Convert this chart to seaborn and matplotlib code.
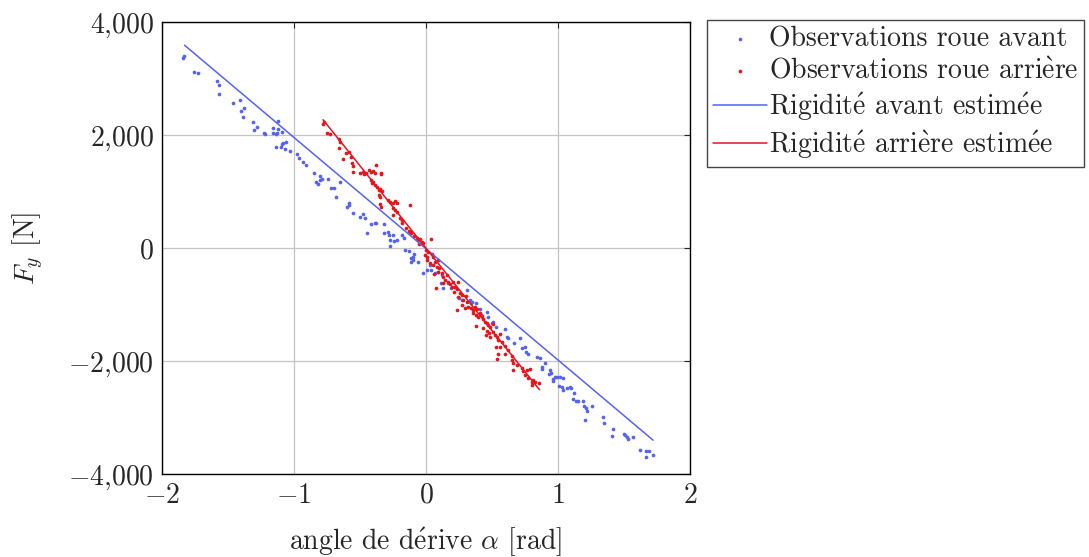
import seaborn as sns
import matplotlib.pyplot as plt
from matplotlib.ticker import FuncFormatter

# observations, roue avant (angle de derive [rad], effort lateral [N])
front_alpha = [-1.84, -1.83, -1.76, -1.73, -1.58, -1.57, -1.57, -1.46, -1.41, -1.40, -1.38, -1.39, -1.31,
               -1.28, -1.30, -1.23, -1.22, -1.16, -1.12, -1.12, -1.16, -1.14, -1.13, -1.09, -1.14, -1.10,
               -1.09, -1.08, -1.06, -1.07, -1.03, -0.98, -0.96, -0.93, -0.91, -0.85, -0.80, -0.79, -0.74,
               -0.83, -0.82, -0.80, -0.72, -0.70, -0.68, -0.65, -0.60, -0.58, -0.58, -0.55, -0.50, -0.48,
               -0.46, -0.42, -0.39, -0.38, -0.45, -0.32, -0.32, -0.29, -0.28, -0.27, -0.25, -0.27, -0.24,
               -0.22, -0.18, -0.17, -0.16, -0.13, -0.09, -0.10, -0.11,
               -0.11, -0.10, -0.06, -0.02, 0.005, 0.03, 0.04, 0.07, 0.09, 0.11, 0.12, 0.13, 0.17, 0.19,
               0.22, 0.25, 0.27, 0.31, 0.33, 0.34, 0.35, 0.38, 0.41, 0.42, 0.46, 0.47, 0.50, 0.51, 0.53,
               0.60, 0.61, 0.62, 0.67, 0.71, 0.73, 0.75, 0.76, 0.77, 0.84, 0.86,
               0.88, 0.90, 0.88, 0.94, 0.95, 0.93, 0.96, 0.98, 0.995, 1.015, 1.035, 0.965, 1.01, 1.03,
               1.04, 1.07, 1.09, 1.10, 1.12, 1.11, 1.14, 1.15, 1.19, 1.20, 1.21, 1.22, 1.26, 1.205, 1.34,
               1.35, 1.42, 1.41, 1.50, 1.51, 1.52, 1.53, 1.57, 1.62, 1.67, 1.69, 1.67, 1.72]
front_fy = [3360, 3400, 3120, 3100, 2960, 2890, 2720, 2570, 2620, 2420, 2470, 2310, 2230,
            2140, 2080, 2040, 2020, 2120, 2100, 2250, 2030, 2020, 2040, 2060, 1790, 1790,
            1840, 1850, 1870, 1750, 1720, 1660, 1590, 1530, 1470, 1320, 1270, 1230, 1230,
            1170, 1130, 1200, 1070, 1060, 900, 1170, 720, 760, 790, 625, 545, 600,
            535, 425, 435, 440, 260, 425, 260, 290, 230, 140, 230, 40, 130,
            140, 230, 170, -35, -50, -105, -155, -180,
            -240, -210, -240, -450, -390, -300, -390, -440, -420, -625, -480, -715, -615, -715,
            -685, -890, -920, -745, -920, -980, -950, -980, -1085, -1185, -1125, -1215, -1335, -1305, -1390,
            -1440, -1570, -1600, -1675, -1600, -1775, -1745, -1835, -1875, -1925, -1955,
            -2110, -2030, -2150, -2160, -2205, -2230, -2325, -2280, -2290, -2290, -2305, -2350, -2445, -2465,
            -2515, -2485, -2465, -2485, -2560, -2680, -2700, -2700, -2700, -2795, -2840, -2880, -2795, -3045, -2985,
            -3090, -3210, -3330, -3290, -3310, -3350, -3385, -3340, -3575, -3585, -3585, -3705, -3665]

# observations, roue arriere
rear_alpha = [-0.78, -0.77, -0.75, -0.73, -0.66, -0.65, -0.66, -0.63, -0.61, -0.58, -0.57, -0.56, -0.555,
              -0.555, -0.50, -0.48, -0.47, -0.455, -0.43, -0.42, -0.40, -0.39, -0.38, -0.34, -0.34, -0.42,
              -0.41, -0.40, -0.39, -0.37, -0.36, -0.35, -0.33, -0.36, -0.35, -0.29, -0.27, -0.25, -0.235,
              -0.22, -0.35, -0.34, -0.25, -0.235, -0.25, -0.22, -0.20, -0.18, -0.18, -0.12, -0.15, -0.13,
              -0.12, -0.11, -0.09, -0.07, -0.06, -0.045, -0.03, -0.05, -0.02, 0.035, 0.0, 0.017, -0.008,
              0.005, 0.043, 0.055,
              0.005, 0.07, 0.03, 0.053, 0.093, 0.08, 0.10, 0.06, 0.093, 0.12, 0.13, 0.157, 0.144, 0.13,
              0.17, 0.18, 0.207, 0.245, 0.194, 0.22, 0.237, 0.212, 0.258, 0.076, 0.27, 0.245, 0.278, 0.303,
              0.313, 0.27, 0.295, 0.237, 0.321, 0.338, 0.354, 0.371, 0.389, 0.359, 0.379, 0.396, 0.409,
              0.422, 0.379, 0.434, 0.447, 0.46, 0.472, 0.485, 0.51, 0.429, 0.46, 0.48, 0.51, 0.523, 0.535,
              0.561, 0.455, 0.485, 0.548, 0.573, 0.53, 0.561, 0.598, 0.624, 0.548, 0.598, 0.535, 0.649,
              0.649, 0.662, 0.687, 0.657, 0.725, 0.737, 0.763, 0.788, 0.75, 0.775, 0.801, 0.813, 0.826,
              0.859, 0.801]
rear_fy = [2195, 2235, 2030, 2020, 1925, 1880, 1765, 1570, 1675, 1705, 1615, 1500, 1450,
           1350, 1320, 1350, 1310, 1335, 1380, 1350, 1370, 1335, 1470, 1335, 1310, 1205,
           1155, 1175, 1115, 1075, 1025, 1040, 1015, 940, 910, 850, 820, 790, 835,
           790, 780, 730, 705, 675, 585, 645, 525, 495, 435, 760, 350, 305,
           290, 260, 210, 170, 140, 155, 110, 70, 85, 155, -35, -65, -125,
           -155, -105, -165,
           -210, -240, -270, -300, -210, -330, -360, -460, -420, -450, -505, -480, -565, -615,
           -595, -635, -595, -595, -685, -695, -730, -775, -790, -715, -830, -875, -920, -850,
           -950, -1010, -1070, -1095, -1040, -1070, -1095, -1050, -1085, -1155, -1185, -1225, -1155,
           -1205, -1380, -1260, -1305, -1335, -1365, -1390, -1345, -1420, -1465, -1500, -1480, -1540, -1570,
           -1520, -1540, -1570, -1630, -1660, -1745, -1760, -1735, -1805, -1875, -1875, -1970, -1910,
           -1980, -2030, -2070, -2160, -2130, -2170, -2160, -2150, -2250, -2305, -2365, -2335, -2365,
           -2395, -2425]

# droites de rigidite estimees
front_fit_alpha = [-1.83, 1.72]
front_fit_fy = [3590, -3400]
rear_fit_alpha = [-0.78, 0.86]
rear_fit_fy = [2270, -2510]

# accents through mathtext (cmr10 has no precomposed é / è)
E_AIGU = r'$\mathrm{\acute{e}}$'
E_GRAVE = r'$\mathrm{\grave{e}}$'
labels = ['Observations roue avant',
          'Observations roue arri' + E_GRAVE + 're',
          'Rigidit' + E_AIGU + ' avant estim' + E_AIGU + 'e',
          'Rigidit' + E_AIGU + ' arri' + E_GRAVE + 're estim' + E_AIGU + 'e']

blue = '#5562f2'
red = '#e8141a'

sns.set_style('white')
plt.rcParams['font.family'] = ['cmr10', 'DejaVu Serif']
plt.rcParams['mathtext.fontset'] = 'cm'
plt.rcParams['axes.unicode_minus'] = False

fig, ax = plt.subplots(figsize=(10.89, 5.57), dpi=100)
fig.subplots_adjust(left=0.1488, right=0.6336, bottom=0.149, top=0.9605)

sns.scatterplot(x=front_alpha, y=front_fy, color=blue, s=7, linewidth=0, ax=ax, label=labels[0])
sns.scatterplot(x=rear_alpha, y=rear_fy, color=red, s=7, linewidth=0, ax=ax, label=labels[1])
sns.lineplot(x=front_fit_alpha, y=front_fit_fy, color=blue, linewidth=1.1, ax=ax, label=labels[2])
sns.lineplot(x=rear_fit_alpha, y=rear_fit_fy, color=red, linewidth=1.1, ax=ax, label=labels[3])

ax.set_xlim(-2, 2)
ax.set_ylim(-4000, 4000)
ax.set_xticks([-2, -1, 0, 1, 2])
ax.set_yticks([-4000, -2000, 0, 2000, 4000])
fmt = FuncFormatter(lambda v, p: ('$' + f'{v:,.0f}' + '$').replace(',', '{,}'))
ax.xaxis.set_major_formatter(fmt)
ax.yaxis.set_major_formatter(fmt)
ax.tick_params(direction='in', length=4, width=0.8, top=True, right=True, labelsize=20, pad=6)
ax.grid(True, color='#c4c4c4', linewidth=0.9)
for s in ax.spines.values():
    s.set_color('black')
    s.set_linewidth(1.0)

ax.set_xlabel('angle de d' + E_AIGU + r'rive $\alpha$ [rad]', fontsize=20, labelpad=12)
ax.set_ylabel(r'$F_y$ [N]', fontsize=20, labelpad=16)

leg = ax.legend(loc='upper left', bbox_to_anchor=(1.032, 1.004), fontsize=20, frameon=True,
                fancybox=False, edgecolor='#444444', framealpha=1, borderaxespad=0,
                handlelength=1.95, handletextpad=0.05, labelspacing=0.18, borderpad=0.22)
leg.get_frame().set_linewidth(1.0)

plt.savefig('out.png', dpi=100)
